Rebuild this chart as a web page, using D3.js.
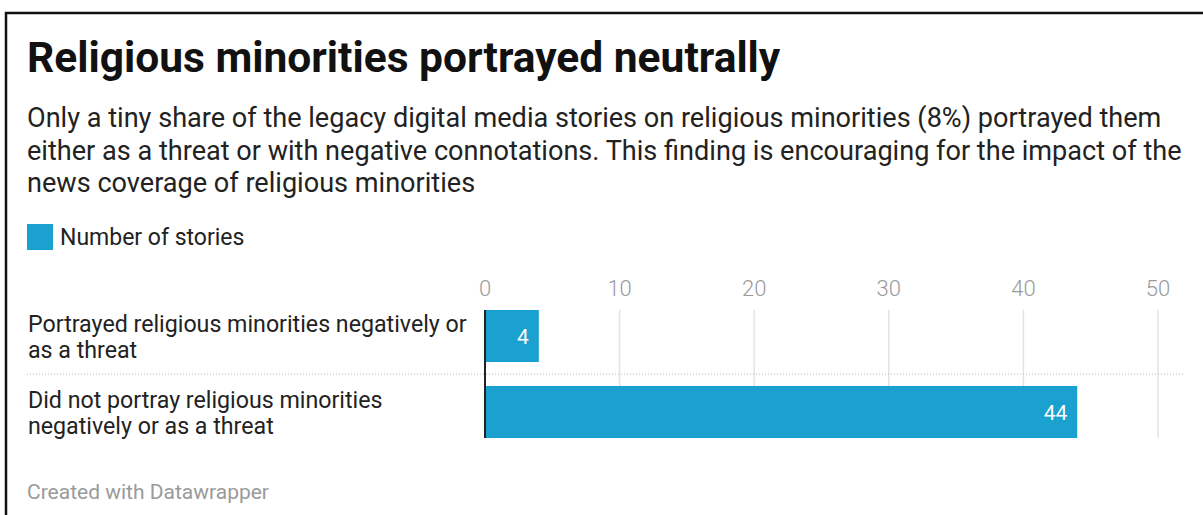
<!doctype html>
<html>
<head>
<meta charset="utf-8">
<script src="https://cdnjs.cloudflare.com/ajax/libs/d3/7.8.5/d3.min.js"></script>
<style>
  body { margin: 0; background: #fff; }
  svg { display: block; font-family: Roboto, "Noto Sans", sans-serif; }
</style>
</head>
<body>
<svg id="chart" width="1203" height="515"></svg>
<script>
// chart data
var categories = ["Portrayed religious minorities negatively or as a threat",
                  "Did not portray religious minorities negatively or as a threat"];
var categoryLines = [["Portrayed religious minorities negatively or", "as a threat"],
                     ["Did not portray religious minorities", "negatively or as a threat"]];
var values = [4, 44];
var tickValues = [0, 10, 20, 30, 40, 50];
var seriesName = "Number of stories";

var titleText = "Religious minorities portrayed neutrally";
var subtitleLines = [
  "Only a tiny share of the legacy digital media stories on religious minorities (8%) portrayed them",
  "either as a threat or with negative connotations. This finding is encouraging for the impact of the",
  "news coverage of religious minorities"
];
var footerText = "Created with Datawrapper";

var barColor = "#1ba1cf";

var svg = d3.select("#chart");

// frame (cropped screenshot border: left + top)
svg.append("path")
    .attr("d", "M6,515 V13 H1203")
    .attr("fill", "none")
    .attr("stroke", "#111")
    .attr("stroke-width", 2.5);

// title
svg.append("text")
    .attr("x", 27)
    .attr("y", 72)
    .attr("font-size", "42.5px")
    .attr("font-weight", 700)
    .attr("fill", "#111")
    .text(titleText);

// subtitle
svg.append("g").selectAll("text")
    .data(subtitleLines)
    .enter().append("text")
    .attr("x", 27)
    .attr("y", function(d, i) { return 127 + i * 32.5; })
    .attr("font-size", "27.1px")
    .attr("fill", "#222")
    .text(function(d) { return d; });

// legend
svg.append("rect")
    .attr("x", 27).attr("y", 224)
    .attr("width", 26).attr("height", 26)
    .attr("fill", barColor);
svg.append("text")
    .attr("x", 60).attr("y", 245)
    .attr("font-size", "23px")
    .attr("fill", "#222")
    .text(seriesName);

// scales
var x = d3.scaleLinear().domain([0, 50]).range([485, 1158]);
var y = d3.scaleBand().domain(categories).range([298, 450])
    .paddingInner(0.316).paddingOuter(0.158);

var yTop = y(categories[0]),
    yBottom = y(categories[categories.length - 1]) + y.bandwidth();

// gridlines
svg.append("g").selectAll("line")
    .data(tickValues.filter(function(d) { return d > 0; }))
    .enter().append("line")
    .attr("x1", function(d) { return x(d); })
    .attr("x2", function(d) { return x(d); })
    .attr("y1", yTop).attr("y2", yBottom)
    .attr("stroke", "#e3e3e3")
    .attr("stroke-width", 1.5);

// tick labels
svg.append("g").selectAll("text")
    .data(tickValues)
    .enter().append("text")
    .attr("x", function(d) { return x(d); })
    .attr("y", 296)
    .attr("text-anchor", "middle")
    .attr("font-size", "22px")
    .attr("font-weight", 300)
    .attr("fill", "#9a9a9a")
    .text(function(d) { return d; });

// row separator (dotted)
for (var i = 1; i < categories.length; i++) {
    var sy = y(categories[i]) - y.step() * y.paddingInner() / 2;
    svg.append("line")
        .attr("x1", 27).attr("x2", 1185)
        .attr("y1", sy).attr("y2", sy)
        .attr("stroke", "#bbb")
        .attr("stroke-width", 1)
        .attr("stroke-dasharray", "1,2");
}

// bars
svg.append("g").selectAll("rect")
    .data(values)
    .enter().append("rect")
    .attr("x", x(0))
    .attr("y", function(d, i) { return y(categories[i]); })
    .attr("width", function(d) { return x(d) - x(0); })
    .attr("height", y.bandwidth())
    .attr("fill", barColor);

// value labels
svg.append("g").selectAll("text")
    .data(values)
    .enter().append("text")
    .attr("x", function(d) { return x(d) - 10; })
    .attr("y", function(d, i) { return y(categories[i]) + y.bandwidth() / 2 + 8; })
    .attr("text-anchor", "end")
    .attr("font-size", "21px")
    .attr("fill", "#fff")
    .text(function(d) { return d; });

// zero baseline
svg.append("line")
    .attr("x1", x(0)).attr("x2", x(0))
    .attr("y1", yTop).attr("y2", yBottom)
    .attr("stroke", "#222")
    .attr("stroke-width", 2);

// row labels
categoryLines.forEach(function(lines, i) {
    var cy = y(categories[i]) + y.bandwidth() / 2;
    svg.append("g").selectAll("text")
        .data(lines)
        .enter().append("text")
        .attr("x", 28)
        .attr("y", function(d, j) { return cy - 4 + j * 26; })
        .attr("font-size", "23.2px")
        .attr("fill", "#222")
        .text(function(d) { return d; });
});

// footer
svg.append("text")
    .attr("x", 27).attr("y", 499)
    .attr("font-size", "21px")
    .attr("fill", "#9a9a9a")
    .text(footerText);
</script>
</body>
</html>
